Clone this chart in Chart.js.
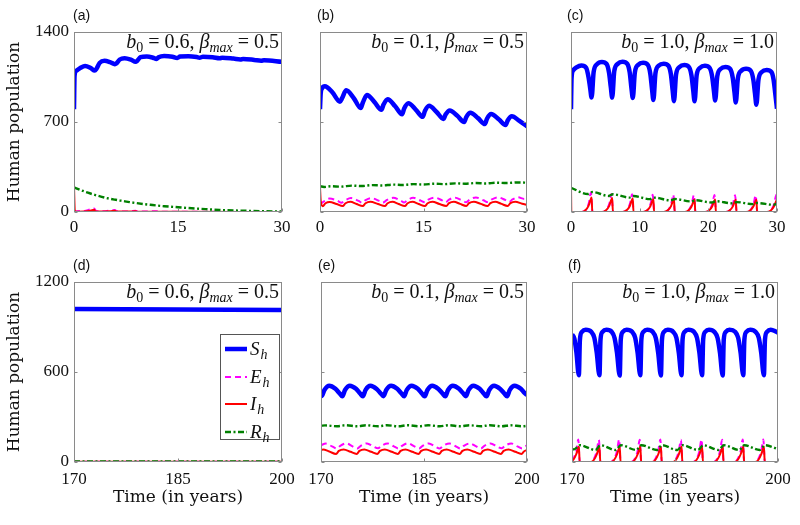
<!DOCTYPE html>
<html>
<head>
<meta charset="utf-8">
<script src="https://cdn.jsdelivr.net/npm/chart.js@4.4.0/dist/chart.umd.min.js"></script>
<style>
  body { margin: 0; background: #fff; }
  #wrap { position: relative; width: 800px; height: 525px; }
  #wrap canvas { position: absolute; left: 0; top: 0; }
</style>
</head>
<body>
<div id="wrap">
  <canvas id="pa" width="800" height="525"></canvas>
  <canvas id="pb" width="800" height="525"></canvas>
  <canvas id="pc" width="800" height="525"></canvas>
  <canvas id="pd" width="800" height="525"></canvas>
  <canvas id="pe" width="800" height="525"></canvas>
  <canvas id="pf" width="800" height="525"></canvas>
</div>
<script>
// tick values
const yTicksTop = [0, 700, 1400];
const yTicksBottom = [0, 600, 1200];
const xTicksEarly = [0, 15, 30];
const xTicksC = [0, 10, 20, 30];
const xTicksLate = [170, 185, 200];

// (a) b0 = 0.6, bmax = 0.5, years 0-30   [time, population]
const aS = [[0,800],[0.08,1060],[0.3,1098],[0.9,1120],[1.6,1136],[2.4,1120],[3.0,1100],[3.2,1110],[3.7,1160],[4.4,1177],[5.2,1166],[5.9,1150],[6.1,1155],[6.6,1186],[7.3,1196],[8.2,1185],[8.9,1168],[9.1,1175],[9.6,1204],[10.5,1210],[11.4,1200],[11.9,1190],[12.2,1204],[13.0,1214],[14.2,1208],[14.9,1198],[15.3,1209],[16.5,1212],[17.7,1205],[18.1,1200],[18.6,1207],[20.0,1204],[21.0,1196],[21.4,1200],[23.0,1193],[24.0,1187],[24.4,1190],[26.0,1183],[27.0,1177],[27.4,1180],[30.0,1168]];
const aE = [[0,0],[0.4,6],[1.5,8],[2.3,20],[2.9,27],[3.2,8],[4.4,5],[5.3,13],[5.9,15],[6.2,5],[7.5,4],[8.4,8],[8.9,9],[9.2,3],[11.4,5],[11.9,5],[12.2,2],[15,2],[20,1],[30,0]];
const aI = [[0,200],[0.12,8],[0.6,2],[2.2,8],[2.9,18],[3.1,4],[5.2,6],[5.9,10],[6.1,3],[8.5,4],[8.9,6],[9.1,2],[12,2],[15,1],[30,0]];
const aR = [[0,192],[1,170],[2,150],[3,133],[4,118],[5,105],[6,95],[7,86],[8,77],[9,69],[10,62],[11,56],[12,50],[13,45],[15,37],[17,29],[19,22],[21,16],[23,12],[25,9],[27,6],[30,4]];

// (b) b0 = 0.1, bmax = 0.5, years 0-30
const bS = [[0,800],[0.1,920],[0.3,962],[0.7,978],[1.8,930],[2.9,858],[3.2,885],[3.8,946],[4.9,885],[5.9,808],[6.2,850],[6.8,910],[7.9,855],[8.9,795],[9.2,835],[9.8,877],[10.9,822],[11.9,760],[12.2,805],[12.8,846],[13.9,795],[14.9,740],[15.2,785],[15.8,826],[16.9,778],[17.9,724],[18.2,758],[18.8,790],[19.9,748],[20.9,700],[21.2,738],[21.8,772],[22.9,730],[23.9,684],[24.2,725],[24.8,762],[25.9,722],[26.9,676],[27.2,712],[27.8,745],[28.9,708],[30.0,666]];
const bE = [[0,60],[0.3,72],[1.4,105],[2.5,88],[3.1,72],[3.6,90],[4.5,108],[5.6,86],[6.1,72],[6.6,92],[7.4,108],[8.6,86],[9.1,73],[9.7,94],[10.6,110],[11.7,88],[12.2,74],[12.7,94],[13.5,110],[14.6,88],[15.2,75],[15.7,96],[16.6,112],[17.7,90],[18.2,76],[18.7,96],[19.5,112],[20.6,90],[21.2,76],[21.7,97],[22.6,113],[23.7,91],[24.3,77],[24.9,98],[25.8,114],[26.9,92],[27.4,78],[27.9,98],[28.7,114],[29.6,102],[30,104]];
const bI = [[0,195],[0.1,90],[0.4,45],[0.8,68],[1.4,78],[2.4,62],[3.3,46],[3.7,68],[4.4,79],[5.3,62],[6.2,46],[6.6,68],[7.3,79],[8.4,62],[9.4,46],[9.8,68],[10.5,79],[11.4,62],[12.3,46],[12.7,68],[13.4,79],[14.3,62],[15.2,46],[15.6,68],[16.3,80],[17.3,62],[18.3,47],[18.7,69],[19.4,80],[20.3,63],[21.2,47],[21.6,69],[22.3,80],[23.3,63],[24.3,47],[24.7,69],[25.4,80],[26.3,63],[27.2,47],[27.6,69],[28.3,80],[29.3,64],[30,55]];
const bR = [[0,200],[0.6,195],[1.6,200],[3,197],[4.6,205],[6,202],[7.6,209],[9,206],[10.6,213],[12,210],[13.6,217],[15,214],[16.6,220],[18,217],[19.6,223],[21,220],[22.6,225],[24,222],[25.6,228],[27,225],[28.6,230],[30,228]];

// (c) b0 = 1.0, bmax = 1.0, years 0-30
const cS = [[0,800],[0.08,1040],[0.3,1100],[0.8,1125],[1.5,1140],[2.2,1122],[2.55,1050],[2.8,960],[3.0,890],
  [3.3,1090],[3.8,1150],[4.5,1167],[5.2,1150],[5.55,1080],[5.8,970],[6.0,890],
  [6.3,1095],[6.8,1152],[7.5,1169],[8.2,1152],[8.55,1085],[8.8,965],[9.0,887],
  [9.3,1085],[9.8,1145],[10.5,1160],[11.2,1143],[11.55,1075],[11.8,955],[12.0,871],
  [12.3,1080],[12.8,1140],[13.5,1154],[14.2,1137],[14.55,1070],[14.8,948],[15.0,862],
  [15.3,1070],[15.8,1128],[16.5,1143],[17.2,1126],[17.55,1060],[17.8,945],[18.0,862],
  [18.3,1065],[18.8,1122],[19.5,1137],[20.2,1120],[20.55,1055],[20.8,948],[21.0,867],
  [21.3,1055],[21.8,1113],[22.5,1128],[23.2,1111],[23.55,1045],[23.8,935],[24.0,852],
  [24.3,1040],[24.8,1099],[25.5,1114],[26.2,1097],[26.55,1030],[26.8,920],[27.0,835],
  [27.3,1030],[27.8,1090],[28.5,1105],[29.2,1088],[29.5,1030],[29.75,920],[30.0,803]];
const cE = [[0,0],[1.6,0],[2.2,20],[2.6,70],[2.9,150],[3.1,10],[3.25,0],
  [4.6,0],[5.2,20],[5.6,68],[5.9,140],[6.1,10],[6.25,0],
  [7.6,0],[8.2,20],[8.6,67],[8.9,138],[9.1,10],[9.25,0],
  [10.6,0],[11.2,19],[11.6,66],[11.9,135],[12.1,10],[12.25,0],
  [13.6,0],[14.2,19],[14.6,66],[14.9,135],[15.1,10],[15.25,0],
  [16.6,0],[17.2,18],[17.6,65],[17.9,132],[18.1,10],[18.25,0],
  [19.6,0],[20.2,18],[20.6,65],[20.9,132],[21.1,10],[21.25,0],
  [22.6,0],[23.2,18],[23.6,64],[23.9,130],[24.1,10],[24.25,0],
  [25.6,0],[26.2,18],[26.6,64],[26.9,130],[27.1,10],[27.25,0],
  [28.6,0],[29.2,18],[29.6,66],[29.9,135],[30,90]];
const cI = [[0,200],[0.05,0],[1.5,0],[2.1,14],[2.55,48],[2.85,95],[3.0,112],[3.1,0],
  [4.5,0],[5.1,14],[5.55,46],[5.85,92],[6.0,108],[6.1,0],
  [7.5,0],[8.1,13],[8.55,45],[8.85,90],[9.0,105],[9.1,0],
  [10.5,0],[11.1,13],[11.55,44],[11.85,86],[12.0,100],[12.1,0],
  [13.5,0],[14.1,13],[14.55,44],[14.85,86],[15.0,100],[15.1,0],
  [16.5,0],[17.1,12],[17.55,43],[17.85,84],[18.0,98],[18.1,0],
  [19.5,0],[20.1,12],[20.55,43],[20.85,84],[21.0,98],[21.1,0],
  [22.5,0],[23.1,12],[23.55,42],[23.85,82],[24.0,96],[24.1,0],
  [25.5,0],[26.1,12],[26.55,42],[26.85,81],[27.0,95],[27.1,0],
  [28.5,0],[29.1,12],[29.55,42],[29.85,81],[30,95]];
const cR = [[0,188],[2.5,140],[3.1,155],[5.5,125],[6.1,138],[8.5,112],[9.1,124],[11.5,100],[12.1,112],[14.5,90],[15.1,101],[17.5,82],[18.1,92],[20.5,74],[21.1,84],[23.5,67],[24.1,77],[26.5,61],[27.1,70],[29.5,56],[30,64]];

// (d) b0 = 0.6, bmax = 0.5, years 170-200
const dS = [[170,1020],[185,1017],[200,1014]];
const dE = [[170,2],[200,2]];
const dI = [[170,1],[200,1]];
const dR = [[170,3],[200,3]];

// (e) b0 = 0.1, bmax = 0.5, years 170-200
const eS = [[170,446],[170.1,440],[170.5,480],[171.2,508],[172.1,488],[172.7,458],[173.1,438],[173.5,480],[174.2,509],[175.1,488],[175.7,457],[176.1,438],[176.5,481],[177.2,508],[178.1,487],[178.7,457],[179.1,439],[179.5,480],[180.2,508],[181.1,488],[181.7,458],[182.1,438],[182.5,481],[183.2,509],[184.1,488],[184.7,457],[185.1,438],[185.5,480],[186.2,508],[187.1,487],[187.7,457],[188.1,438],[188.5,480],[189.2,508],[190.1,488],[190.7,458],[191.1,439],[191.5,481],[192.2,509],[193.1,488],[193.7,457],[194.1,438],[194.5,480],[195.2,508],[196.1,487],[196.7,457],[197.1,438],[197.5,481],[198.2,508],[199.1,488],[199.6,462],[200,446]];
const eE = [[170,112],[170.7,123],[171.6,104],[172.3,90],[172.8,108],[173.7,124],[174.6,104],[175.3,90],[175.8,108],[176.7,124],[177.6,104],[178.3,91],[178.8,108],[179.7,124],[180.6,104],[181.3,90],[181.8,108],[182.7,125],[183.6,104],[184.3,90],[184.8,108],[185.7,124],[186.6,104],[187.3,90],[187.8,108],[188.7,124],[189.6,105],[190.3,90],[190.8,108],[191.7,124],[192.6,104],[193.3,90],[193.8,108],[194.7,124],[195.6,104],[196.3,91],[196.8,108],[197.7,124],[198.6,104],[199.3,90],[199.8,105],[200,110]];
const eI = [[170,78],[170.3,84],[171.2,70],[172.2,54],[172.6,74],[173.3,84],[174.3,68],[175.2,54],[175.6,74],[176.3,84],[177.3,68],[178.2,54],[178.6,74],[179.3,84],[180.3,68],[181.2,54],[181.6,74],[182.3,84],[183.3,68],[184.2,54],[184.6,74],[185.3,84],[186.3,68],[187.2,54],[187.6,74],[188.3,84],[189.3,68],[190.2,54],[190.6,74],[191.3,84],[192.3,68],[193.2,54],[193.6,74],[194.3,84],[195.3,68],[196.2,54],[196.6,74],[197.3,84],[198.3,68],[199.2,54],[199.6,72],[200,80]];
const eR = [[170,242],[170.6,244],[172.3,238],[173.6,245],[175.3,238],[176.6,245],[178.3,238],[179.6,245],[181.3,238],[182.6,245],[184.3,238],[185.6,245],[187.3,238],[188.6,245],[190.3,238],[191.6,245],[193.3,238],[194.6,245],[196.3,238],[197.6,245],[199.3,238],[200,241]];

// (f) b0 = 1.0, bmax = 1.0, years 170-200
const fS = [[170,852],[170.35,822],[170.65,728],[171.0,578],
  [171.15,815],[171.45,868],[172.0,882],[172.8,868],[173.25,828],[173.6,730],[174.0,578],
  [174.15,815],[174.45,868],[175.0,881],[175.8,867],[176.2,827],[176.55,728],[176.95,576],
  [177.1,815],[177.4,867],[177.95,882],[178.75,868],[179.2,828],[179.55,730],[179.95,578],
  [180.1,816],[180.4,868],[180.95,882],[181.75,868],[182.2,827],[182.55,729],[182.95,577],
  [183.1,815],[183.4,868],[183.95,881],[184.75,867],[185.2,828],[185.55,730],[185.95,578],
  [186.1,815],[186.4,868],[186.95,882],[187.75,868],[188.2,828],[188.55,730],[188.95,578],
  [189.1,816],[189.4,868],[189.95,882],[190.75,867],[191.2,827],[191.55,729],[191.95,577],
  [192.1,815],[192.4,868],[192.95,881],[193.75,868],[194.2,828],[194.55,730],[194.95,578],
  [195.1,815],[195.4,868],[195.95,882],[196.75,867],[197.2,828],[197.55,730],[197.95,578],
  [198.1,815],[198.4,868],[198.95,882],[199.75,868],[200,862]];
const fE = [[170,10],[170.2,22],[170.6,72],[170.92,150],[171.1,10],[171.2,0],
  [172.7,0],[173.2,22],[173.6,72],[173.92,148],[174.1,10],[174.2,0],
  [175.65,0],[176.15,22],[176.55,72],[176.87,150],[177.05,10],[177.15,0],
  [178.65,0],[179.15,22],[179.55,72],[179.87,148],[180.05,10],[180.15,0],
  [181.65,0],[182.15,22],[182.55,72],[182.87,150],[183.05,10],[183.15,0],
  [184.65,0],[185.15,22],[185.55,72],[185.87,148],[186.05,10],[186.15,0],
  [187.65,0],[188.15,22],[188.55,72],[188.87,150],[189.05,10],[189.15,0],
  [190.65,0],[191.15,22],[191.55,72],[191.87,148],[192.05,10],[192.15,0],
  [193.65,0],[194.15,22],[194.55,72],[194.87,150],[195.05,10],[195.15,0],
  [196.65,0],[197.15,22],[197.55,72],[197.87,150],[198.05,10],[198.15,0],
  [200,0]];
const fI = [[170,8],[170.2,15],[170.6,50],[170.9,92],[171.0,103],[171.12,0],
  [172.7,0],[173.2,15],[173.6,50],[173.9,92],[174.0,103],[174.12,0],
  [175.65,0],[176.15,15],[176.55,50],[176.85,92],[176.95,102],[177.07,0],
  [178.65,0],[179.15,15],[179.55,50],[179.85,92],[179.95,103],[180.07,0],
  [181.65,0],[182.15,15],[182.55,50],[182.85,92],[182.95,102],[183.07,0],
  [184.65,0],[185.15,15],[185.55,50],[185.85,92],[185.95,103],[186.07,0],
  [187.65,0],[188.15,15],[188.55,50],[188.85,92],[188.95,102],[189.07,0],
  [190.65,0],[191.15,15],[191.55,50],[191.85,92],[191.95,103],[192.07,0],
  [193.65,0],[194.15,15],[194.55,50],[194.85,92],[194.95,102],[195.07,0],
  [196.65,0],[197.15,15],[197.55,50],[197.85,92],[197.95,103],[198.07,0],
  [200,0]];
const fR = [[170,88],[170.3,84],[171.15,112],[173.4,80],[174.15,112],[176.35,80],[177.1,112],[179.35,80],[180.1,112],[182.35,80],[183.1,112],[185.35,80],[186.1,112],[188.35,80],[189.1,112],[191.35,80],[192.1,112],[194.35,80],[195.1,112],[197.35,80],[198.1,112],[200,86]];

const serif = '"Liberation Serif", "Times New Roman", serif';
const titleFont = { family: '"DejaVu Serif", serif', size: 17 };

const xy = arr => arr.map(([x, y]) => ({ x, y }));

// frame, inward ticks, panel tag, parameter text, legend
const decorate = {
  id: 'decorate',
  afterDraw(chart, args, o) {
    const { ctx, chartArea: a } = chart;
    const xs = chart.scales.x, ys = chart.scales.y;
    ctx.save();
    ctx.strokeStyle = '#8a8a8a';
    ctx.lineWidth = 1;
    const L = Math.round(a.left) + 0.5, T = Math.round(a.top) + 0.5;
    const R = Math.round(a.right) - 0.5, B = Math.round(a.bottom) - 0.5;
    ctx.strokeRect(L, T, R - L, B - T);
    ctx.beginPath();
    xs.ticks.forEach(t => {
      const px = Math.round(xs.getPixelForValue(t.value)) + 0.5;
      ctx.moveTo(px, B); ctx.lineTo(px, B - 3);
    });
    ys.ticks.forEach(t => {
      const py = Math.round(ys.getPixelForValue(t.value)) + 0.5;
      ctx.moveTo(L, py); ctx.lineTo(L + 3, py);
      ctx.moveTo(R, py); ctx.lineTo(R - 3, py);
    });
    ctx.stroke();

    // panel tag
    ctx.fillStyle = '#111';
    ctx.font = '14px "Liberation Sans", Arial, sans-serif';
    ctx.textBaseline = 'middle';
    ctx.textAlign = 'left';
    ctx.fillText(o.tag, a.left + o.tagDx, a.top - 16);

    // parameter text
    const big = 20, small = 14;
    const parts = [
      { t: 'b', f: `italic ${big}px ${serif}`, dy: 0 },
      { t: '0', f: `${small}px ${serif}`, dy: 4 },
      { t: ' = ' + o.b0 + ', ', f: `${big}px ${serif}`, dy: 0 },
      { t: 'β', f: `italic ${big}px ${serif}`, dy: 0 },
      { t: 'max', f: `italic ${small}px ${serif}`, dy: 4 },
      { t: ' = ' + o.bmax, f: `${big}px ${serif}`, dy: 0 }
    ];
    let w = 0;
    parts.forEach(p => { ctx.font = p.f; p.w = ctx.measureText(p.t).width; w += p.w; });
    let x = a.right - 3 - w;
    const base = a.top + 16;
    ctx.textBaseline = 'alphabetic';
    parts.forEach(p => { ctx.font = p.f; ctx.fillText(p.t, x, base + p.dy); x += p.w; });

    // legend box (panel d)
    if (o.legend) {
      const bx = 220.5, by = 334.5, bw = 59, bh = 105;
      ctx.fillStyle = '#fff';
      ctx.fillRect(bx, by, bw, bh);
      ctx.strokeStyle = '#555';
      ctx.strokeRect(bx, by, bw, bh);
      const rows = [349, 377, 404, 432];
      chart.data.datasets.forEach((ds, i) => {
        const yy = rows[i];
        ctx.save();
        ctx.strokeStyle = ds.borderColor;
        ctx.lineWidth = ds.borderWidth;
        ctx.setLineDash(ds.borderDash || []);
        ctx.beginPath();
        ctx.moveTo(225, yy); ctx.lineTo(247, yy);
        ctx.stroke();
        ctx.restore();
        ctx.fillStyle = '#111';
        ctx.font = `italic 19px ${serif}`;
        ctx.fillText(ds.label, 250, yy + 6);
        const lw = ctx.measureText(ds.label).width;
        ctx.font = `italic 14px ${serif}`;
        ctx.fillText('h', 250 + lw + 1, yy + 10);
      });
    }
    ctx.restore();
  }
};

const panels = [
  { id: 'pa', tag: '(a)', tagDx: -1, b0: '0.6', bmax: '0.5', S: aS, E: aE, I: aI, R: aR, xr: [0, 30], xt: xTicksEarly, yr: [0, 1400], yt: yTicksTop, rect: { l: 74, t: 32, r: 282, b: 212 }, col: 0, row: 0 },
  { id: 'pb', tag: '(b)', tagDx: -3, b0: '0.1', bmax: '0.5', S: bS, E: bE, I: bI, R: bR, xr: [0, 30], xt: xTicksEarly, yr: [0, 1400], yt: yTicksTop, rect: { l: 320, t: 32, r: 527, b: 212 }, col: 1, row: 0 },
  { id: 'pc', tag: '(c)', tagDx: -4, b0: '1.0', bmax: '1.0', S: cS, E: cE, I: cI, R: cR, xr: [0, 30], xt: xTicksC, yr: [0, 1400], yt: yTicksTop, rect: { l: 571, t: 32, r: 777, b: 212 }, col: 2, row: 0 },
  { id: 'pd', tag: '(d)', tagDx: -1, b0: '0.6', bmax: '0.5', S: dS, E: dE, I: dI, R: dR, xr: [170, 200], xt: xTicksLate, yr: [0, 1200], yt: yTicksBottom, rect: { l: 74, t: 282, r: 282, b: 462 }, col: 0, row: 1, legend: true },
  { id: 'pe', tag: '(e)', tagDx: -3, b0: '0.1', bmax: '0.5', S: eS, E: eE, I: eI, R: eR, xr: [170, 200], xt: xTicksLate, yr: [0, 1200], yt: yTicksBottom, rect: { l: 321, t: 282, r: 527, b: 462 }, col: 1, row: 1 },
  { id: 'pf', tag: '(f)', tagDx: -4, b0: '1.0', bmax: '1.0', S: fS, E: fE, I: fI, R: fR, xr: [170, 200], xt: xTicksLate, yr: [0, 1200], yt: yTicksBottom, rect: { l: 572, t: 282, r: 778, b: 462 }, col: 2, row: 1 }
];

function makePanel(p) {
  const r = p.rect;
  const yW = p.col === 0 ? r.l : 40;
  const xH = p.row === 0 ? 50 : 525 - r.b;
  new Chart(document.getElementById(p.id), {
    type: 'line',
    data: {
      datasets: [
        { label: 'S', data: xy(p.S), borderColor: '#0000ff', borderWidth: 4.5, order: 4 },
        { label: 'E', data: xy(p.E), borderColor: '#ff00ff', borderWidth: 2, borderDash: [6, 4], order: 3 },
        { label: 'I', data: xy(p.I), borderColor: '#ff0000', borderWidth: 2, order: 2 },
        { label: 'R', data: xy(p.R), borderColor: '#008000', borderWidth: 2.4, borderDash: [6, 2.5, 2, 2.5], order: 1 }
      ]
    },
    options: {
      responsive: false,
      animation: false,
      devicePixelRatio: 1,
      layout: { padding: { left: r.l - yW, top: r.t, right: 800 - r.r, bottom: 525 - r.b - xH } },
      elements: {
        point: { radius: 0 },
        line: { cubicInterpolationMode: 'monotone', borderJoinStyle: 'round', fill: false }
      },
      plugins: {
        legend: { display: false },
        tooltip: { enabled: false },
        decorate: { tag: p.tag, tagDx: p.tagDx, b0: p.b0, bmax: p.bmax, legend: !!p.legend }
      },
      scales: {
        x: {
          type: 'linear',
          min: p.xr[0],
          max: p.xr[1],
          afterBuildTicks: s => { s.ticks = p.xt.map(v => ({ value: v })); },
          afterFit: s => { s.height = xH; },
          grid: { display: false, drawTicks: false },
          border: { display: false },
          ticks: { font: { family: serif, size: 17 }, color: '#111', padding: p.row === 0 ? 5 : 7, maxRotation: 0, autoSkip: false, callback: v => String(v) },
          title: { display: p.row === 1, text: 'Time (in years)', font: titleFont, color: '#111', padding: { top: 4, bottom: 17 } }
        },
        y: {
          min: p.yr[0],
          max: p.yr[1],
          afterBuildTicks: s => { s.ticks = p.yt.map(v => ({ value: v })); },
          afterFit: s => { s.width = yW; },
          grid: { display: false, drawTicks: false },
          border: { display: false },
          ticks: { display: p.col === 0, font: { family: serif, size: 17 }, color: '#111', padding: 5, callback: v => String(v) },
          title: { display: p.col === 0, text: 'Human population', font: titleFont, color: '#111', padding: { top: 4, bottom: 0 } }
        }
      }
    },
    plugins: [decorate]
  });
}

panels.forEach(makePanel);
</script>
</body>
</html>
